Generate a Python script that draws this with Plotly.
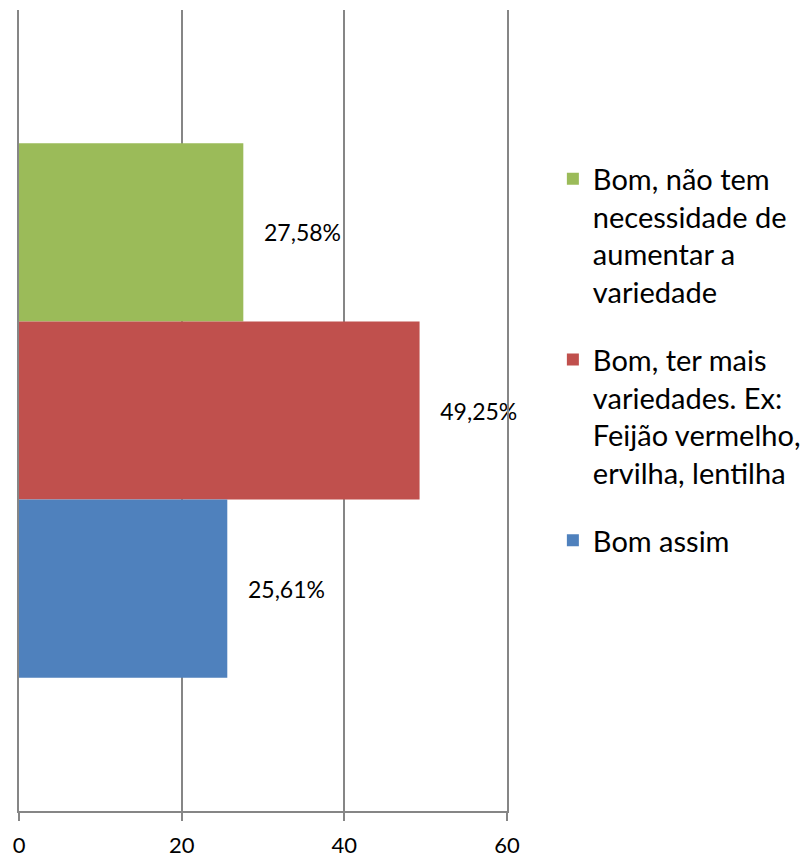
import plotly.graph_objects as go

categories = ["Resposta"]
series_names = [
    "Bom, não tem<br>necessidade de<br>aumentar a<br>variedade",
    "Bom, ter mais<br>variedades. Ex:<br>Feijão vermelho,<br>ervilha, lentilha",
    "Bom assim",
]
series_values = [27.58, 49.25, 25.61]
value_labels = ["27,58%", "49,25%", "25,61%"]
series_colors = ["#9BBB59", "#C0504D", "#4F81BD"]
x_ticks = [0, 20, 40, 60]

FONT = "Lato"

fig = go.Figure()
for i, (name, val, lab, col) in enumerate(zip(series_names, series_values, value_labels, series_colors)):
    fig.add_trace(go.Bar(
        y=categories, x=[val], name=name, orientation="h",
        marker=dict(color=col, line=dict(width=0)),
        text=["\u00a0\u00a0\u00a0" + lab], textposition="outside",
        textfont=dict(family=FONT, size=23, color="#000000"),
        cliponaxis=False, legendgroup=f"g{i}",
    ))

fig.update_layout(
    width=802, height=851,
    margin=dict(l=11, r=303, t=2, b=48, autoexpand=False),
    paper_bgcolor="white", plot_bgcolor="white",
    barmode="group", bargap=0.333, bargroupgap=0,
    font=dict(family=FONT, size=22, color="#000000"),
    legend=dict(
        traceorder="grouped", tracegroupgap=27, valign="top",
        x=1.094, xanchor="left", y=0.821, yanchor="top",
        font=dict(family=FONT, size=29, color="#000000"),
        bgcolor="rgba(0,0,0,0)",
    ),
    xaxis=dict(
        range=[0, 60], tickvals=x_ticks, ticktext=[str(t) for t in x_ticks],
        showgrid=True, gridcolor="#868686", gridwidth=2,
        showline=True, linecolor="#868686", linewidth=2,
        ticks="outside", ticklen=8, tickcolor="#868686", tickwidth=2,
        ticklabelstandoff=6, automargin=False,
        zeroline=False, tickfont=dict(family=FONT, size=22),
    ),
    yaxis=dict(
        showticklabels=False, showgrid=False, zeroline=False,
        showline=True, mirror=True, linecolor="#868686", linewidth=2,
        ticks="", automargin=False, autorange="reversed",
    ),
)

fig.write_html("out.html")
